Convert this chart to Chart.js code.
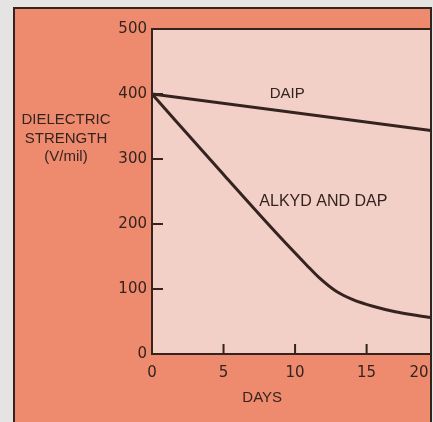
<!DOCTYPE html>
<html>
<head>
<meta charset="utf-8">
<script src="https://cdn.jsdelivr.net/npm/chart.js@4"></script>
<style>
  html, body { margin: 0; padding: 0; background: #e6e4e2; }
</style>
</head>
<body>
<canvas id="chart" width="433" height="422"></canvas>
<script>
// values
var alkydDays = [0, 5, 8.9, 10.8, 11.7, 12.9, 14, 15.5, 17, 18.3, 19.5];
var alkydDap = [400, 276, 181, 137, 117, 96, 84, 73, 65, 60, 56];
var daipDays = [0, 19.5];
var daip = [400, 344];
var xTicks = [0, 5, 10, 15, 19.5];
var xTickLabels = ['0', '5', '10', '15', '20\u0020\u0020\u0020\u0020\u0020'];
var yTicks = [0, 100, 200, 300, 400, 500];
var yTitle = ['DIELECTRIC', 'STRENGTH', '(V/mil)'];
var xTitle = 'DAYS';

var ink = '#35231f';
var panel = '#ee8b6e';
var plotBg = '#f2d0c7';
var outside = '#e6e4e2';

function toPoints(xs, ys) {
  return xs.map(function (d, i) { return { x: d, y: ys[i] }; });
}

var backdrop = {
  id: 'backdrop',
  beforeDraw: function (chart) {
    var ctx = chart.ctx, a = chart.chartArea;
    ctx.save();
    ctx.fillStyle = outside;
    ctx.fillRect(0, 0, chart.width, chart.height);
    ctx.fillStyle = panel;
    ctx.fillRect(14, 8, a.right - 14, chart.height);
    ctx.strokeStyle = ink;
    ctx.lineWidth = 2;
    ctx.beginPath();
    ctx.moveTo(14, chart.height + 2);
    ctx.lineTo(14, 8);
    ctx.lineTo(a.right, 8);
    ctx.lineTo(a.right, chart.height + 2);
    ctx.stroke();
    ctx.fillStyle = plotBg;
    ctx.fillRect(a.left, a.top, a.right - a.left, a.bottom - a.top);
    ctx.restore();
  },
  afterDatasetsDraw: function (chart) {
    var ctx = chart.ctx, a = chart.chartArea;
    var xs = chart.scales.x, ys = chart.scales.y;
    ctx.save();
    ctx.strokeStyle = ink;
    ctx.lineWidth = 2;
    ctx.strokeRect(a.left, a.top, a.right - a.left, a.bottom - a.top);
    // inward tick marks
    ctx.beginPath();
    [5, 10, 15].forEach(function (v) {
      var px = xs.getPixelForValue(v);
      ctx.moveTo(px, a.bottom);
      ctx.lineTo(px, a.bottom - 10);
    });
    [100, 200, 300, 400].forEach(function (v) {
      var py = ys.getPixelForValue(v);
      ctx.moveTo(a.left, py);
      ctx.lineTo(a.left + 11, py);
    });
    ctx.stroke();

    // text
    ctx.fillStyle = ink;
    ctx.textAlign = 'center';
    ctx.textBaseline = 'middle';
    ctx.font = '15px "Liberation Sans"';
    yTitle.forEach(function (t, i) {
      ctx.fillText(t, 66, 120 + i * 18.5);
    });
    ctx.fillText(xTitle, xs.getPixelForValue(7.7), 398);
    ctx.fillText('DAIP', xs.getPixelForValue(9.45), ys.getPixelForValue(400));
    ctx.font = '16px "Liberation Sans"';
    ctx.textAlign = 'left';
    ctx.fillText('ALKYD AND DAP', xs.getPixelForValue(7.5), ys.getPixelForValue(235));
    ctx.restore();
  }
};

var tickFont = { family: 'DejaVu Sans', size: 15 };

new Chart(document.getElementById('chart'), {
  type: 'line',
  data: {
    datasets: [{
      label: 'DAIP',
      data: toPoints(daipDays, daip),
      borderColor: ink,
      borderWidth: 3,
      pointRadius: 0,
      fill: false
    }, {
      label: 'ALKYD AND DAP',
      data: toPoints(alkydDays, alkydDap),
      borderColor: ink,
      borderWidth: 3,
      pointRadius: 0,
      fill: false,
      cubicInterpolationMode: 'monotone'
    }]
  },
  options: {
    responsive: false,
    animation: false,
    layout: { padding: { left: 14, top: 29, right: 2, bottom: 0 } },
    plugins: { legend: { display: false }, tooltip: { enabled: false } },
    scales: {
      x: {
        type: 'linear',
        min: 0,
        max: 19.5,
        afterBuildTicks: function (s) {
          s.ticks = xTicks.map(function (v) { return { value: v }; });
        },
        afterFit: function (s) {
          s.height = 68;
          s.paddingLeft = 0;
          s.paddingRight = 0;
        },
        ticks: {
          autoSkip: false,
          maxRotation: 0,
          padding: 10,
          color: ink,
          font: tickFont,
          callback: function (v, i) { return xTickLabels[i]; }
        },
        grid: { display: false, drawTicks: false },
        border: { display: false }
      },
      y: {
        min: 0,
        max: 500,
        afterBuildTicks: function (s) {
          s.ticks = yTicks.map(function (v) { return { value: v }; });
        },
        afterFit: function (s) {
          s.width = 138;
        },
        ticks: {
          padding: 5,
          color: ink,
          font: tickFont
        },
        grid: { display: false, drawTicks: false },
        border: { display: false }
      }
    }
  },
  plugins: [backdrop]
});
</script>
</body>
</html>
